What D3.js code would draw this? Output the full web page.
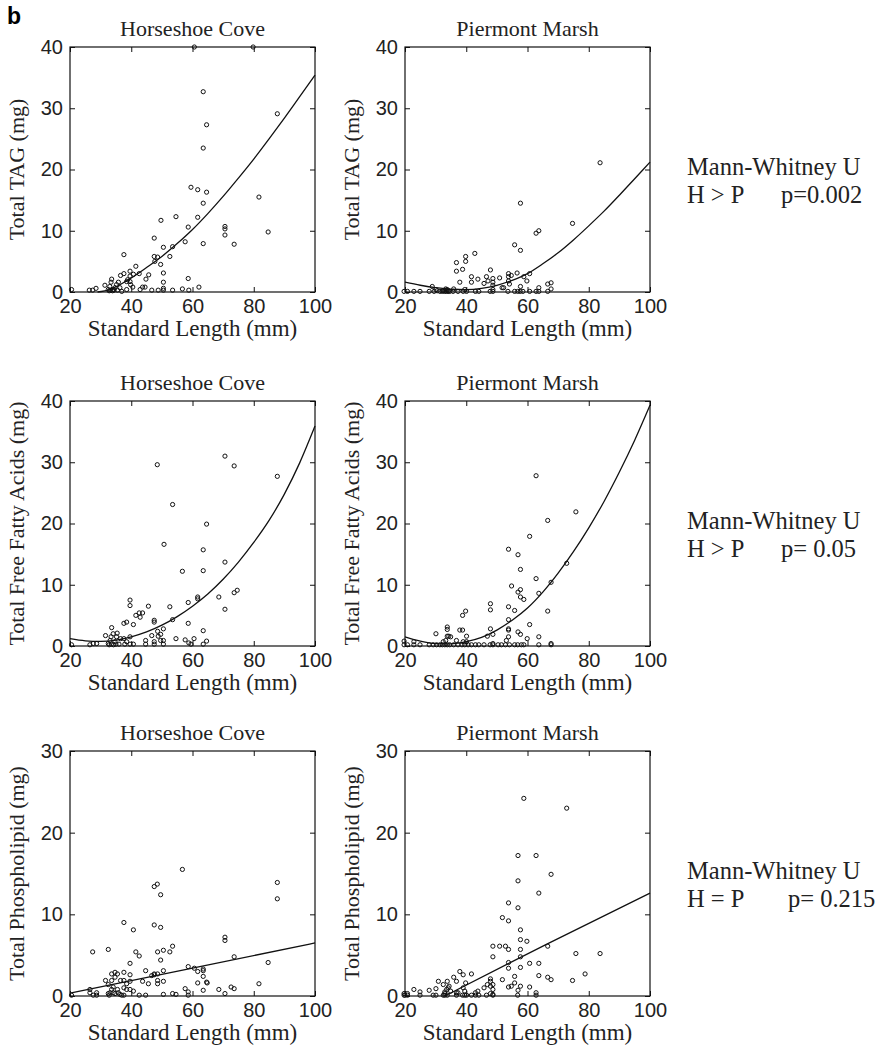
<!DOCTYPE html>
<html>
<head>
<meta charset="utf-8">
<script src="https://cdn.jsdelivr.net/npm/d3@7"></script>
<style>
  body { margin: 0; background: #fff; }
  .tick text { font-family: "Liberation Sans", Arial, sans-serif; font-size: 20px; fill: #222; }
</style>
</head>
<body>
<div id="chart-area"></div>
<script>
// sites, measures and stats
const sites = ["Horseshoe Cove", "Piermont Marsh"];
const yLabels = ["Total TAG (mg)", "Total Free Fatty Acids (mg)", "Total Phospholipid (mg)"];
const yMaxes = [40, 40, 30];
const yTickSets = [[0, 10, 20, 30, 40], [0, 10, 20, 30, 40], [0, 10, 20, 30]];
const xTicks = [20, 40, 60, 80, 100];
const statHead = ["Mann-Whitney U", "Mann-Whitney U", "Mann-Whitney U"];
const statTest = ["H > P", "H > P", "H = P"];
const statP = ["p=0.002", "p= 0.05", "p= 0.215"];

const serif = "'Liberation Serif', 'Times New Roman', serif";

// scatter values [standard length, mg]
const hcTag = [[20.5,0.4],[26.3,0.3],[27.4,0.3],[28.5,0.6],[31.4,1.1],[32.5,0.4],[33,0.9],[33.4,1.6],[33.6,2.1],
  [34.1,0.4],[34.7,0.7],[35.2,1.2],[35.8,1.6],[36.3,0.7],[36.9,0.1],[36.5,2.7],[37.6,3.0],[37.6,6.1],[38.5,1.7],
  [38.5,0.4],[38.8,2.0],[39.6,3.4],[39.6,2.6],[39.6,1.7],[39.8,1.2],[40.5,0.8],[40.7,2.9],[41.5,4.2],[42.6,3.0],
  [42.9,0.4],[43.7,0.8],[44.5,0.8],[44.8,2.1],[45.7,2.8],[46.7,0.3],[47.5,5.8],[47.7,5.0],[47.5,8.8],[48.6,5.7],
  [48.8,0.3],[49.7,11.7],[49.6,4.5],[50.5,7.3],[50.5,3.1],[50.5,1.6],[50.5,0.6],[50.5,0.3],[52.6,5.8],[53.5,7.4],
  [53.5,0.3],[54.6,12.3],[56.7,0.5],[57.6,8.2],[58.6,10.6],[58.6,2.2],[58.8,0.3],[59.5,17.1],[60.6,40],[61.7,16.7],
  [61.7,12.2],[62.1,0.8],[63.5,32.7],[63.5,23.5],[63.5,14.5],[63.5,7.9],[64.6,27.3],[64.6,16.3],[70.6,10.7],
  [70.6,10.3],[70.6,9.3],[73.6,7.8],[79.8,40],[81.7,15.5],[84.7,9.8],[87.7,29.1],
  [32.8,0.2],[33.3,0.3],[33.9,0.2],[34.4,0.3],[35.5,0.3]];

const pmTag = [[19.7,0.1],[20.8,0.1],[22.9,0.1],[24.9,0.1],[27.9,0.1],[29.5,0.1],[31.4,0.1],[32.2,0.1],[33,0.1],
  [33.5,0.1],[34.1,0.1],[34.6,0.1],[35.7,0.1],[37.3,0.1],[39,0.1],[40.1,0.1],[43,0.1],[44.1,0.1],[47.8,0.1],
  [48.7,0.1],[53.6,0.1],[55.8,0.1],[56.8,0.1],[57.6,0.1],[58.5,0.1],[60.7,0.1],[62.8,0.1],[63.7,0.1],[66.6,0.1],
  [28.9,0.9],[30.1,0.4],[30.5,0.2],[32.5,0.2],[33,0.3],[33.8,0.4],[34.1,0.2],[33.3,0.5],[35.9,0.5],[36.8,4.8],
  [36.8,3.4],[37.9,1.6],[38.8,3.7],[39.5,0.4],[39.8,5.8],[39.8,5.0],[41.7,2.5],[41.7,1.6],[42.8,6.3],[43.8,2.1],
  [45.8,1.4],[46.6,2.5],[47.1,1.8],[47.9,3.6],[48.7,2.2],[48.7,1.6],[48.7,1.1],[48.7,0.4],[50.9,2.3],[51.7,0.7],
  [52.2,0.7],[53.8,3.0],[53.8,2.5],[53.8,1.8],[54.1,1.3],[54.7,2.7],[55.8,7.7],[56.6,3.1],[57.7,14.5],[57.7,6.8],
  [57.7,0.9],[58.8,2.5],[59.8,1.8],[60.7,3.0],[62.8,9.6],[63.7,10],[63.7,0.7],[66.6,1.3],[67.7,1.5],[67.7,0.5],
  [74.7,11.2],[83.7,21.1]];

const hcFfa = [[20.5,0.2],[26.5,0.2],[27.6,0.4],[28.7,0.4],[31.6,1.7],[32.5,0.4],[33.1,0.9],[33.4,1.5],[33.6,3.0],
  [34.1,2.0],[34.7,0.7],[35.2,1.5],[35.4,2.1],[36,0.3],[36.5,1.2],[37.6,3.7],[38.5,3.9],[37.6,1.2],[37.9,0.3],
  [38.5,0.7],[39.6,7.5],[39.6,6.6],[39.6,1.5],[39.6,0.3],[40.7,3.5],[40.7,0.3],[41.5,5.0],[42.6,5.4],[42.9,4.7],
  [43.7,5.4],[44.7,0.9],[44.7,0.3],[45.6,6.5],[46.7,1.7],[47.5,4.2],[47.5,3.9],[47.5,0.7],[47.5,0.3],[48.5,29.6],
  [48.6,2.4],[48.8,1.6],[49.6,1.9],[49.6,0.9],[50.5,0.9],[50.5,0.3],[50.5,2.8],[50.7,16.6],[52.6,6.4],[53.5,23.1],
  [53.5,4.3],[54.6,1.2],[56.7,12.2],[57.6,1.0],[58.6,7.1],[58.6,3.7],[58.8,0.5],[59.5,0.3],[60.5,1.2],[61.7,8.0],
  [61.7,7.7],[63.5,15.7],[63.5,12.3],[63.5,2.5],[63.5,0.3],[64.6,19.9],[64.6,0.8],[68.6,8.0],[70.6,31.0],
  [70.6,13.7],[70.6,6.0],[73.6,29.4],[73.6,8.7],[74.6,9.1],[87.7,27.7],
  [32.8,0.2],[33.5,0.3],[34.2,0.2],[35,0.3]];

const pmFfa = [[19.7,0.2],[20.8,0.2],[22.9,0.2],[24.9,0.2],[27.9,0.2],[29.2,0.2],[30.3,0.2],[31.4,0.2],[32.2,0.2],
  [33,0.2],[33.8,0.2],[34.6,0.2],[35.9,0.2],[37.3,0.2],[38.6,0.2],[39.5,0.2],[40.6,0.2],[41.7,0.2],[43,0.2],
  [44.1,0.2],[45.8,0.2],[47.8,0.2],[48.7,0.2],[50.4,0.2],[51.5,0.2],[52.8,0.2],[54.1,0.2],[55.8,0.2],[56.8,0.2],
  [58,0.2],[58.8,0.2],[63.7,0.2],[67.7,0.2],[19.7,0.8],[22.9,0.7],[30.1,2.0],[32.5,0.7],[33.3,0.9],[33.8,1.6],
  [33.8,3.1],[33.8,2.7],[34.3,1.6],[34.9,1.5],[36.8,0.9],[37.9,2.6],[38.8,2.6],[38.8,5.0],[39.8,5.7],[39,0.7],
  [40.1,1.6],[40.1,0.7],[46.9,1.6],[47.9,2.8],[47.9,6.9],[47.9,5.9],[48.7,1.9],[48.7,0.4],[53.1,0.9],[53.8,15.8],
  [53.8,6.4],[53.8,4.3],[53.8,2.8],[53.8,2.6],[53.8,1.5],[54.8,9.8],[55.8,5.8],[56.9,14.9],[56.9,8.8],[56.9,2.3],
  [57.7,1.9],[57.7,12.5],[57.7,9.2],[57.7,8.0],[58.8,7.6],[59.9,1.2],[60.7,17.9],[60.7,3.5],[62.8,27.8],[62.8,11.0],
  [63.7,8.6],[63.7,1.5],[66.6,20.5],[66.6,5.7],[67.7,10.4],[67.7,0.4],[72.8,13.5],[75.8,21.9]];

const hcPl = [[20.5,0.1],[26.5,0.8],[26.5,0.4],[27.4,5.4],[27.6,0.1],[28.7,0.4],[28.7,0.1],[31.6,1.9],[32.5,5.7],
  [32.5,1.4],[32.5,0.3],[32.8,0.1],[33.1,0.4],[33.6,2.7],[33.6,1.9],[33.6,0.8],[34.1,1.1],[34.1,0.4],[34.7,0.3],
  [34.7,2.9],[34.7,2.3],[35.5,2.7],[35.5,0.8],[35.8,0.4],[36.3,0.2],[36.9,0.1],[36.5,1.9],[37.6,1.9],[37.6,9.0],
  [37.6,2.9],[37.6,1.0],[37.6,0.1],[38.5,1.5],[38.5,0.8],[39.6,0.8],[39.6,1.8],[39.6,4.0],[39.6,2.6],[40.7,8.1],
  [40.7,0.6],[41.5,5.4],[42.6,4.9],[42.6,0.1],[43.7,1.8],[44.7,0.1],[44.7,3.1],[45.6,1.5],[46.7,2.5],[47.5,2.6],
  [47.5,2.7],[47.5,13.4],[48.5,13.7],[47.5,8.7],[48.6,5.4],[48.6,1.9],[48.6,1.5],[48.6,2.7],[49.6,12.4],[49.6,8.4],
  [49.6,4.4],[50.5,5.6],[50.5,3.1],[50.5,1.8],[50.5,0.2],[52.6,5.4],[53.5,6.1],[53.5,0.3],[54.6,0.2],[56.7,15.5],
  [57.6,0.9],[58.6,3.6],[58.6,0.5],[58.6,0.1],[60.6,3.4],[61.7,3.0],[61.7,1.6],[63.5,3.3],[63.5,3.1],[63.5,2.4],
  [63.5,0.7],[64.6,1.7],[64.8,1.6],[68.6,0.8],[70.6,7.2],[70.6,6.8],[70.6,0.3],[72.6,1.1],[73.6,0.9],[73.6,4.8],
  [81.7,1.5],[84.7,4.1],[87.7,13.9],[87.7,11.9]];

const pmPl = [[19.7,0.1],[20,0.1],[20.8,0.1],[24.9,0.1],[29.2,0.1],[30.1,0.1],[32.5,0.1],[33,0.1],[33.8,0.1],
  [36.8,0.1],[38.8,0.1],[39.5,0.1],[40.1,0.1],[41.7,0.1],[43,0.1],[44.1,0.1],[46.6,0.1],[48.7,0.1],[56.8,0.1],
  [62.8,0.1],[19.7,0.3],[20.8,0.3],[22.9,0.8],[24.9,0.5],[27.9,0.7],[30.1,0.9],[30.9,1.8],[32.5,1.4],[33,0.5],
  [33,0.3],[33.6,0.8],[33.8,1.8],[34.1,1.0],[34.4,1.2],[34.9,0.6],[35.9,2.3],[36.8,1.8],[36.8,0.4],[37.3,0.4],
  [37.9,3.0],[39,2.6],[39,1.0],[39.5,0.6],[39.8,1.6],[41.7,2.7],[43,0.4],[43.8,0.6],[45.8,1.0],[46.9,1.4],
  [47.9,2.1],[47.9,1.8],[47.9,1.2],[47.9,0.3],[48.7,1.4],[48.7,0.8],[48.7,0.2],[48.7,6.1],[48.7,4.8],[50.9,6.1],
  [51.8,2.0],[51.8,9.6],[52.8,6.1],[53.8,11.4],[53.8,9.2],[53.8,5.7],[53.8,4.1],[53.8,3.4],[53.8,1.1],[54.7,1.2],
  [55.8,1.6],[55.8,2.4],[56.9,17.2],[56.9,14.1],[56.9,10.8],[56.9,0.7],[57.7,8.1],[57.7,6.9],[57.7,5.7],[57.7,4.8],
  [57.7,3.5],[57.7,1.2],[58.8,24.2],[59.8,6.7],[60.7,4.0],[60.7,1.1],[62.8,17.2],[62.8,0.4],[63.7,12.6],[63.7,4.0],
  [63.7,2.5],[66.6,6.1],[66.6,2.3],[67.7,14.9],[67.7,2.0],[72.8,23.0],[74.7,1.9],[75.8,5.2],[78.8,2.7],[83.7,5.2]];

// fitted curves, sampled off the figure
const hcTagFit = [[29,0],[33,0.4],[40,2.3],[45,4.0],[50,5.8],[55,7.9],[60,10.2],[65,12.8],[70,15.6],[75,18.6],
  [80,21.7],[85,25.0],[90,28.4],[95,31.9],[100,35.4]];
const pmTagFit = [[20,1.6],[25,1.1],[30,0.7],[35,0.45],[40,0.4],[45,0.6],[50,1.1],[55,1.9],[60,3.0],[65,4.6],
  [70,6.4],[75,8.5],[80,10.8],[85,13.2],[90,15.8],[95,18.5],[100,21.2]];
const hcFfaFit = [[20,1.2],[25,0.85],[30,0.75],[35,0.95],[40,1.5],[45,2.3],[50,3.4],[55,4.8],[60,6.5],[65,8.5],
  [70,10.9],[75,13.7],[80,16.9],[85,20.5],[90,24.8],[95,29.9],[100,35.9]];
const pmFfaFit = [[20,1.5],[25,0.8],[30,0.4],[35,0.35],[40,0.7],[45,1.4],[50,2.6],[55,4.2],[60,6.2],[65,8.8],
  [70,11.9],[75,15.4],[80,19.3],[85,23.6],[90,28.4],[95,33.6],[100,39.3]];
const hcPlFit = [[20,0.35],[60,3.4],[100,6.5]];
const pmPlFit = [[33,0],[66,6.3],[100,12.6]];

const points = [[hcTag, pmTag], [hcFfa, pmFfa], [hcPl, pmPl]];
const fits = [[hcTagFit, pmTagFit], [hcFfaFit, pmFfaFit], [hcPlFit, pmPlFit]];

const colLeft = [70, 405];
const rowTop = [47, 401, 751];
const pw = 245, ph = 245;

var svg = d3.select("#chart-area").append("svg")
    .attr("width", 892)
    .attr("height", 1056);

svg.append("text")
    .attr("x", 7).attr("y", 24)
    .attr("font-family", "Liberation Sans, Arial, sans-serif")
    .attr("font-weight", "bold")
    .attr("font-size", 23)
    .text("b");

rowTop.forEach(function(top, r) {
  colLeft.forEach(function(left, c) {
    var g = svg.append("g").attr("transform", "translate(" + left + "," + top + ")");

    var x = d3.scaleLinear().domain([20, 100]).range([0, pw]);
    var y = d3.scaleLinear().domain([0, yMaxes[r]]).range([ph, 0]);

    g.append("g").attr("transform", "translate(0," + ph + ")")
      .call(d3.axisBottom(x).tickValues(xTicks).tickSizeInner(-5).tickSizeOuter(0).tickPadding(7));
    g.append("g")
      .call(d3.axisLeft(y).tickValues(yTickSets[r]).tickSizeInner(-5).tickSizeOuter(0).tickPadding(7));
    g.append("g")
      .call(d3.axisTop(x).tickValues(xTicks).tickSizeInner(-5).tickSizeOuter(0).tickFormat(""));
    g.append("g").attr("transform", "translate(" + pw + ",0)")
      .call(d3.axisRight(y).tickValues(yTickSets[r]).tickSizeInner(-5).tickSizeOuter(0).tickFormat(""));
    g.selectAll(".domain").remove();
    g.selectAll(".tick line").attr("stroke", "#111");

    g.append("rect")
      .attr("width", pw).attr("height", ph)
      .attr("fill", "none").attr("stroke", "#111").attr("stroke-width", 1.2);

    g.append("path")
      .datum(fits[r][c])
      .attr("fill", "none")
      .attr("stroke", "#111")
      .attr("stroke-width", 1.3)
      .attr("d", d3.line().x(d => x(d[0])).y(d => y(d[1])).curve(d3.curveMonotoneX));

    g.selectAll("circle")
      .data(points[r][c])
      .enter().append("circle")
      .attr("cx", d => x(d[0]))
      .attr("cy", d => y(d[1]))
      .attr("r", 2.1)
      .attr("fill", "none")
      .attr("stroke", "#111")
      .attr("stroke-width", 1);

    g.append("text")
      .attr("font-family", serif).attr("fill", "#222")
      .attr("x", pw / 2).attr("y", -11)
      .attr("text-anchor", "middle")
      .attr("font-size", 22)
      .text(sites[c]);

    g.append("text")
      .attr("font-family", serif).attr("fill", "#222")
      .attr("x", pw / 2).attr("y", ph + 44)
      .attr("text-anchor", "middle")
      .attr("font-size", 23)
      .text("Standard Length (mm)");

    g.append("text")
      .attr("font-family", serif).attr("fill", "#222")
      .attr("transform", "translate(-46," + (ph / 2) + ") rotate(-90)")
      .attr("text-anchor", "middle")
      .attr("font-size", 22)
      .text(yLabels[r]);
  });

  var ann = svg.append("g").attr("font-family", serif).attr("fill", "#222").attr("font-size", 24.5);
  ann.append("text").attr("x", 687).attr("y", top + 128).text(statHead[r]);
  ann.append("text").attr("x", 687).attr("y", top + 156).text(statTest[r]);
  ann.append("text").attr("x", r == 2 ? 788 : 781).attr("y", top + 156).text(statP[r]);
});
</script>
</body>
</html>
